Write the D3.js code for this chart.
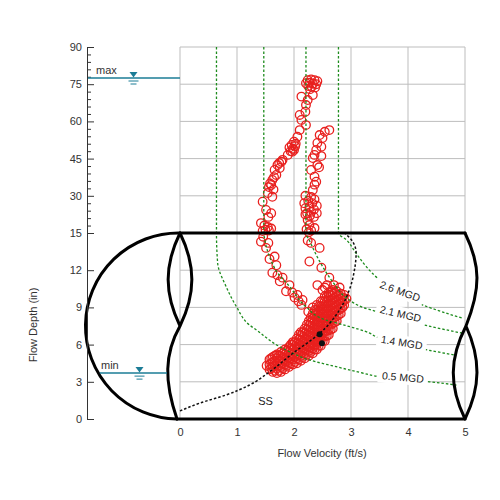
<!DOCTYPE html>
<html>
<head>
<meta charset="utf-8">
<script src="https://cdn.jsdelivr.net/npm/d3@7"></script>
<style>
  body { margin: 0; background: #fff; }
  svg text { font-family: "Liberation Sans", Arial, sans-serif; fill: #333; }
</style>
</head>
<body>
<svg id="chart" width="500" height="500"></svg>
<script>
// Values (velocity ft/s, depth in)
var xTicks = [0, 1, 2, 3, 4, 5]
  , yTicks = [0, 3, 6, 9, 12, 15, 30, 45, 60, 75, 90]
  , yMinorTicks = [18, 21, 24, 27, 33, 36, 39, 42, 48, 51, 54, 57, 63, 66, 69, 72, 78, 81, 84, 87]
  , gridDepths = [3, 6, 9, 12, 15, 30, 45, 60, 75, 90]
  , pipeDiameter = 15
  , maxLevel = 77.5
  , minLevel = 3.7

// iso-flow curves
var flowNames = ['0.5 MGD', '1.4 MGD', '2.1 MGD', '2.6 MGD']
var flow05 = [[0.64, 90], [0.64, 15], [0.66, 12.6], [0.81, 10.67], [0.99, 9.06], [1.22, 7.58], [1.34, 7.18],
  [1.75, 5.83], [1.97, 5.32], [2.27, 4.76], [2.74, 4.22], [3.2, 3.71], [3.5, 3.41], [4.38, 3.0], [4.85, 2.74]]
var flow14 = [[1.47, 90], [1.47, 15], [1.49, 14.4], [1.57, 13.1], [1.71, 11.8], [1.92, 10.7], [2.21, 9.06],
  [2.56, 7.98], [2.9, 7.55], [3.32, 6.94], [3.44, 6.64], [4.35, 5.56], [4.82, 5.16]]
var flow21 = [[2.21, 90], [2.21, 15], [2.27, 14.4], [2.47, 12.55], [2.7, 10.93], [2.94, 9.7], [3.21, 9.0],
  [3.42, 8.7], [4.29, 7.58], [4.96, 6.91]]
var flow26 = [[2.78, 90], [2.78, 15], [2.92, 14.44], [3.09, 13.36], [3.27, 12.28], [3.47, 11.35],
  [4.26, 9.19], [4.96, 8.12]]

// pipe curve (SS)
var ssCurve = [[0, 0.65], [0.34, 1.27], [0.81, 1.94], [1.22, 2.74], [1.57, 3.8], [1.98, 5.3], [2.45, 6.9],
  [2.8, 8.8], [2.97, 10.4], [3.06, 12], [3.09, 13.4], [3.03, 14.3], [2.89, 15]]

// observed data
var trailA = [[2.24, 76.6], [2.30, 76.9], [2.36, 76.6], [2.41, 76.2], [2.27, 75.6], [2.33, 75.3], [2.39, 75.0],
  [2.25, 74.3], [2.31, 74.0], [2.37, 73.7], [2.28, 73.0], [2.21, 75.4],
  [2.33, 70.6], [2.13, 70.0], [2.24, 68.6], [2.21, 66.6], [2.20, 63.9], [2.10, 62.6], [2.13, 60.6], [2.21, 58.5],
  [2.10, 56.5], [2.06, 53.8], [2.00, 51.8],
  [1.94, 48.0], [1.98, 49.0], [2.02, 50.0], [1.96, 50.5], [2.00, 48.5], [1.92, 49.5], [2.03, 51.0], [1.97, 47.8],
  [1.89, 46.5], [1.80, 44.5], [1.78, 43.7], [1.74, 43.2], [1.71, 42.4], [1.75, 41.2], [1.66, 40.4], [1.69, 38.4],
  [1.65, 37.5], [1.62, 36.4], [1.58, 35.0], [1.60, 34.4], [1.56, 33.5], [1.64, 32.5], [1.54, 31.1], [1.62, 29.6],
  [1.45, 27.6], [1.51, 24.3], [1.60, 23.0], [1.55, 21.5], [1.42, 19.0], [1.48, 18.0], [1.54, 17.4], [1.50, 16.3],
  [1.60, 16.8], [1.56, 16.0], [1.45, 15.8],
  [1.42, 14.3], [1.46, 14.7], [1.51, 13.8], [1.55, 14.2], [1.66, 13.1], [1.57, 12.9], [1.69, 12.4], [1.62, 11.8],
  [1.71, 11.6], [1.80, 11.4], [1.75, 11.1], [1.92, 10.8], [1.86, 10.3], [1.97, 10.2], [2.06, 10.0], [2.01, 9.8],
  [2.15, 9.6], [2.13, 9.2], [2.08, 9.5]]
var trailB = [[2.62, 56.5], [2.54, 55.8], [2.45, 54.5], [2.50, 53.3], [2.41, 51.3], [2.48, 49.8], [2.39, 48.5],
  [2.36, 46.5], [2.48, 46.0], [2.33, 45.2], [2.41, 42.4], [2.44, 41.5], [2.30, 40.4], [2.36, 37.7], [2.39, 35.7],
  [2.36, 34.5], [2.33, 32.3],
  [2.20, 30.0], [2.30, 29.5], [2.36, 28.5], [2.25, 28.0], [2.18, 27.0], [2.32, 27.0], [2.40, 26.0], [2.27, 25.5],
  [2.20, 25.0], [2.35, 24.5], [2.30, 23.5], [2.23, 23.0], [2.40, 23.0], [2.28, 22.0], [2.35, 21.5], [2.20, 22.5],
  [2.24, 20.2], [2.27, 18.2], [2.36, 17.0], [2.22, 16.5], [2.30, 16.0], [2.26, 15.3],
  [2.24, 14.4], [2.30, 14.2], [2.45, 13.8], [2.27, 12.7], [2.48, 12.2], [2.62, 11.4], [2.41, 10.8], [2.54, 10.6],
  [2.25, 8.65], [2.33, 9.0]]
// dense band: velocity column -> depths
var bandColumns = [
  [1.57, [4.0, 4.4, 4.8]],
  [1.60, [4.1, 4.5, 4.9]],
  [1.63, [3.8, 4.2, 4.6, 5.0]],
  [1.665, [3.9, 4.3, 4.7, 5.1]],
  [1.70, [3.7, 4.1, 4.5, 4.9, 5.2]],
  [1.735, [3.9, 4.3, 4.7, 5.1]],
  [1.77, [3.8, 4.2, 4.6, 5.0, 5.4]],
  [1.805, [4.1, 4.5, 4.9, 5.3]],
  [1.84, [4.0, 4.4, 4.8, 5.2, 5.6]],
  [1.875, [4.3, 4.7, 5.1, 5.5]],
  [1.91, [4.2, 4.6, 5.0, 5.4, 5.8]],
  [1.945, [4.5, 4.9, 5.3, 5.7, 6.0]],
  [1.98, [4.4, 4.8, 5.2, 5.6, 6.0, 6.2]],
  [2.015, [4.6, 5.0, 5.4, 5.8, 6.2]],
  [2.05, [4.5, 4.9, 5.3, 5.7, 6.1, 6.5]],
  [2.085, [4.8, 5.2, 5.6, 6.0, 6.4, 6.8]],
  [2.12, [4.7, 5.1, 5.5, 5.9, 6.3, 6.7, 7.0]],
  [2.155, [5.0, 5.4, 5.8, 6.2, 6.6, 7.0]],
  [2.19, [4.9, 5.3, 5.7, 6.1, 6.5, 6.9, 7.3]],
  [2.225, [5.2, 5.6, 6.0, 6.4, 6.8, 7.2, 7.6]],
  [2.26, [5.1, 5.5, 5.9, 6.3, 6.7, 7.1, 7.5, 7.9]],
  [2.295, [5.4, 5.8, 6.2, 6.6, 7.0, 7.4, 7.8, 8.2]],
  [2.33, [5.3, 5.7, 6.1, 6.5, 6.9, 7.3, 7.7, 8.1, 8.5]],
  [2.365, [5.6, 6.0, 6.4, 6.8, 7.2, 7.6, 8.0, 8.4, 8.8]],
  [2.40, [5.6, 6.0, 6.4, 6.8, 7.2, 7.6, 8.0, 8.4, 8.8, 9.2]],
  [2.435, [5.9, 6.3, 6.7, 7.1, 7.5, 7.9, 8.3, 8.7, 9.1]],
  [2.47, [5.9, 6.3, 6.7, 7.1, 7.5, 7.9, 8.3, 8.7, 9.1, 9.5]],
  [2.505, [6.3, 6.7, 7.1, 7.5, 7.9, 8.3, 8.7, 9.1, 9.5]],
  [2.54, [6.3, 6.7, 7.1, 7.5, 7.9, 8.3, 8.7, 9.1, 9.5, 9.9]],
  [2.575, [6.7, 7.1, 7.5, 7.9, 8.3, 8.7, 9.1, 9.5, 9.9]],
  [2.61, [6.8, 7.2, 7.6, 8.0, 8.4, 8.8, 9.2, 9.6, 10.0, 10.2]],
  [2.645, [7.2, 7.6, 8.0, 8.4, 8.8, 9.2, 9.6, 10.0, 10.3]],
  [2.68, [7.3, 7.7, 8.1, 8.5, 8.9, 9.3, 9.7, 10.1, 10.4]],
  [2.715, [7.8, 8.2, 8.6, 9.0, 9.4, 9.8, 10.2]],
  [2.75, [7.9, 8.3, 8.7, 9.1, 9.5, 9.9, 10.3]],
  [2.785, [8.4, 8.8, 9.2, 9.6, 10.0]],
  [2.82, [8.5, 8.9, 9.3, 9.7, 10.1]],
  [2.85, [9.0, 9.4, 9.8]],
  [2.88, [9.2, 9.6, 10.0]]
]
var bandExtras = [[2.50, 10.4], [2.58, 10.8], [2.70, 10.8], [2.80, 10.6], [2.92, 9.7], [1.52, 4.3]]
var meanPoints = [[2.45, 6.83], [2.49, 6.1]]

var svg = d3.select('#chart')
  , teal = '#1b7c96'
  , red = '#e8201e'

var x = d3.scaleLinear().domain([0, 5]).range([180, 465])
// broken depth scale: 0-15 stretched, 15-90 compressed
var y = d3.scaleLinear().domain([0, 15, 90]).range([419, 233, 47])

// grid
var grid = svg.append('g').attr('stroke', '#bdbdbd').attr('stroke-width', 1)
grid.selectAll('line.v').data(xTicks).enter().append('line')
  .attr('x1', x).attr('x2', x).attr('y1', y(0)).attr('y2', y(90))
grid.selectAll('line.h').data(gridDepths).enter().append('line')
  .attr('x1', x(0)).attr('x2', x(5)).attr('y1', y).attr('y2', y)

// data points
var bandPts = []
bandColumns.forEach(function(c) { c[1].forEach(function(d) { bandPts.push([c[0], d]) }) })
var allPts = trailA.concat(trailB, bandPts, bandExtras)
svg.append('g').selectAll('circle').data(allPts).enter().append('circle')
  .attr('cx', function(p) { return x(p[0]) })
  .attr('cy', function(p) { return y(p[1]) })
  .attr('r', 4.3)
  .attr('fill', 'none')
  .attr('stroke', red)
  .attr('stroke-width', 1.3)

// iso-flow curves
var line = d3.line()
  .x(function(p) { return x(p[0]) })
  .y(function(p) { return y(p[1]) })
  .curve(d3.curveMonotoneY)

svg.append('g').selectAll('path').data([flow05, flow14, flow21, flow26]).enter().append('path')
  .attr('d', line)
  .attr('fill', 'none')
  .attr('stroke', '#1e8c1e')
  .attr('stroke-width', 1.3)
  .attr('stroke-dasharray', '2.5,2')

// flow labels (with white boxes breaking the curves)
var labelPos = [[3.91, 3.35, 5], [3.89, 6.17, 9], [3.87, 8.47, 13], [3.86, 10.3, 20]]
var labels = svg.append('g').selectAll('g').data(flowNames).enter().append('g')
  .attr('transform', function(n, i) {
    var p = labelPos[i]
    return 'translate(' + x(p[0]) + ',' + y(p[1]) + ') rotate(' + p[2] + ')'
  })
labels.append('rect').attr('x', -25).attr('y', -7).attr('width', 50).attr('height', 14).attr('fill', '#fff')
labels.append('text')
  .attr('text-anchor', 'middle').attr('dy', '0.35em')
  .style('font-size', '10.5px').style('fill', '#222')
  .text(function(n) { return n })

// SS pipe curve
svg.append('path').datum(ssCurve)
  .attr('d', line)
  .attr('fill', 'none')
  .attr('stroke', '#111')
  .attr('stroke-width', 1.5)
  .attr('stroke-dasharray', '2.5,2')

svg.append('text').attr('x', x(1.5)).attr('y', y(1.4)).attr('dy', '0.35em')
  .attr('text-anchor', 'middle').style('font-size', '11px').style('fill', '#222').text('SS')

svg.append('g').selectAll('circle').data(meanPoints).enter().append('circle')
  .attr('cx', function(p) { return x(p[0]) })
  .attr('cy', function(p) { return y(p[1]) })
  .attr('r', 3)
  .attr('fill', '#111')

// pipe outline
var p0 = x(0), p5 = x(5), pTop = y(pipeDiameter), pBot = y(0)
  , mid = (pTop + pBot) / 2, rad = (pBot - pTop) / 2, b = rad * 0.17
var pipe = svg.append('g').attr('fill', 'none').attr('stroke', '#000').attr('stroke-width', 3)
  .attr('stroke-linejoin', 'round').attr('stroke-linecap', 'round')
pipe.append('path').attr('d', 'M' + p0 + ',' + pTop + 'H' + p5 + 'M' + (p0 - 3) + ',' + pBot + 'H' + p5)
pipe.append('path').attr('d', 'M' + p0 + ',' + pTop + 'A' + rad + ',' + rad + ' 0 0 0 ' + (p0 - 3) + ',' + pBot)
pipe.append('path').attr('d',
  'M' + p0 + ',' + pTop +
  'C' + (p0 - b) + ',' + (pTop + rad * 0.35) + ' ' + (p0 - b) + ',' + (mid - rad * 0.35) + ' ' + p0 + ',' + mid +
  'C' + (p0 + b) + ',' + (mid - rad * 0.35) + ' ' + (p0 + b) + ',' + (pTop + rad * 0.35) + ' ' + p0 + ',' + pTop +
  'M' + p0 + ',' + mid +
  'C' + (p0 - b) + ',' + (mid + rad * 0.3) + ' ' + (p0 - b) + ',' + (pBot - rad * 0.4) + ' ' + (p0 - 3) + ',' + pBot)
pipe.append('path').attr('d',
  'M' + p5 + ',' + pTop +
  'C' + (p5 + b) + ',' + (pTop + rad * 0.35) + ' ' + (p5 + b) + ',' + (mid - rad * 0.4) + ' ' + (p5 + 1) + ',' + mid +
  'M' + (p5 + 1) + ',' + mid +
  'C' + (p5 - b) + ',' + (mid + rad * 0.35) + ' ' + (p5 - b) + ',' + (pBot - rad * 0.35) + ' ' + p5 + ',' + pBot +
  'C' + (p5 + b) + ',' + (pBot - rad * 0.35) + ' ' + (p5 + b) + ',' + (mid + rad * 0.35) + ' ' + (p5 + 1) + ',' + mid)

// axes
var axisX = 87
svg.append('g').attr('transform', 'translate(' + axisX + ',0)')
  .call(d3.axisLeft(y).tickValues(yTicks).tickSizeInner(-7).tickSizeOuter(0).tickPadding(5))
svg.append('g').attr('transform', 'translate(' + axisX + ',0)')
  .call(d3.axisLeft(y).tickValues(yMinorTicks).tickSizeInner(-4).tickSizeOuter(0).tickFormat(''))
  .call(function(g) { g.select('.domain').remove() })
var xAxis = svg.append('g').attr('transform', 'translate(0,' + y(0) + ')')
  .call(d3.axisBottom(x).tickValues(xTicks).tickSize(0).tickPadding(9).tickFormat(d3.format('d')))
xAxis.select('.domain').remove()
svg.selectAll('.tick text').style('font-size', '11px').style('fill', '#333')
  .attr('font-family', null)
svg.selectAll('.domain, .tick line').attr('stroke', '#333')

svg.append('text').attr('x', 322).attr('y', 457).attr('text-anchor', 'middle')
  .style('font-size', '11px').text('Flow Velocity (ft/s)')
svg.append('text').attr('transform', 'translate(37,' + 325 + ') rotate(-90)').attr('text-anchor', 'middle')
  .style('font-size', '11px').text('Flow Depth (in)')

// max / min water levels
var drawLevel = function(value, x1, x2, symX, name, nameX) {
  var ly = y(value)
    , g = svg.append('g')
  g.append('line').attr('x1', x1).attr('x2', x2).attr('y1', ly).attr('y2', ly)
    .attr('stroke', teal).attr('stroke-width', 1.5)
  g.append('path').attr('d', 'M' + (symX - 4) + ',' + (ly - 6) + 'H' + (symX + 4) + 'L' + symX + ',' + (ly - 0.5) + 'Z')
    .attr('fill', teal)
  g.append('path').attr('d', 'M' + (symX - 5) + ',' + (ly + 3) + 'H' + (symX + 5) + 'M' + (symX - 3) + ',' + (ly + 6) + 'H' + (symX + 3))
    .attr('stroke', teal).attr('stroke-width', 1)
  g.append('text').attr('x', nameX).attr('y', ly - 4).style('font-size', '11px').text(name)
}
var minY = y(minLevel)
  , arcX = p0 - Math.sqrt(rad * rad - (minY - mid) * (minY - mid))
drawLevel(maxLevel, axisX + 1, p0, 133.5, 'max', 96)
drawLevel(minLevel, arcX, p0 - 13, 139.5, 'min', 101)
</script>
</body>
</html>
